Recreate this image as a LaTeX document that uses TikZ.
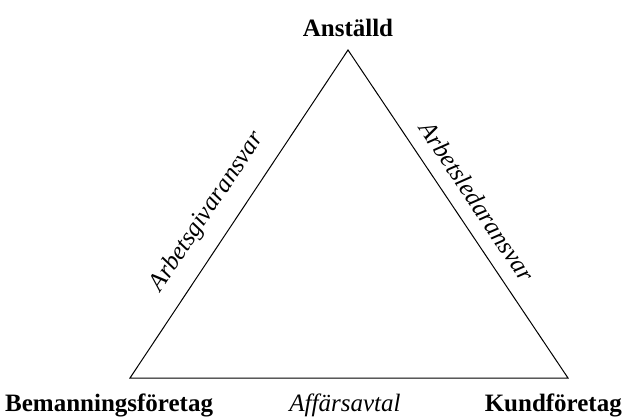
\documentclass[tikz,border=0pt]{standalone}
\usepackage{fontspec}
\setmainfont{Liberation Serif}
\begin{document}
\begin{tikzpicture}[x=1pt,y=-1pt]
\tikzset{
    party/.style={font=\fontsize{25}{30}\selectfont\bfseries, inner sep=0},
    duty/.style={font=\fontsize{25}{30}\selectfont\itshape, inner sep=0}
}
\useasboundingbox (0,0) rectangle (627,416);
%corners
\coordinate (top) at (348,50);
\coordinate (bl) at (130,378);
\coordinate (br) at (568,378);
\draw[line width=1pt] (bl) -- (top) -- (br) -- cycle;
%parties
\node[party,anchor=base] (anst) at (348,36){Anställd};
\node[party,anchor=base west] (bemanning) at (5,411){Bemanningsföretag};
\node[party,anchor=base east] (kund) at (622,411){Kundföretag};
%responsibilities
\path (bl) -- (top) node[duty,sloped,pos=.46,above=16pt] (agiv){Arbetsgivaransvar};
\path (top) -- (br) node[duty,sloped,pos=.5,above=14pt] (aled){Arbetsledaransvar};
\node[duty,anchor=base] (avtal) at (345,411){Affärsavtal};
\end{tikzpicture}
\end{document}
